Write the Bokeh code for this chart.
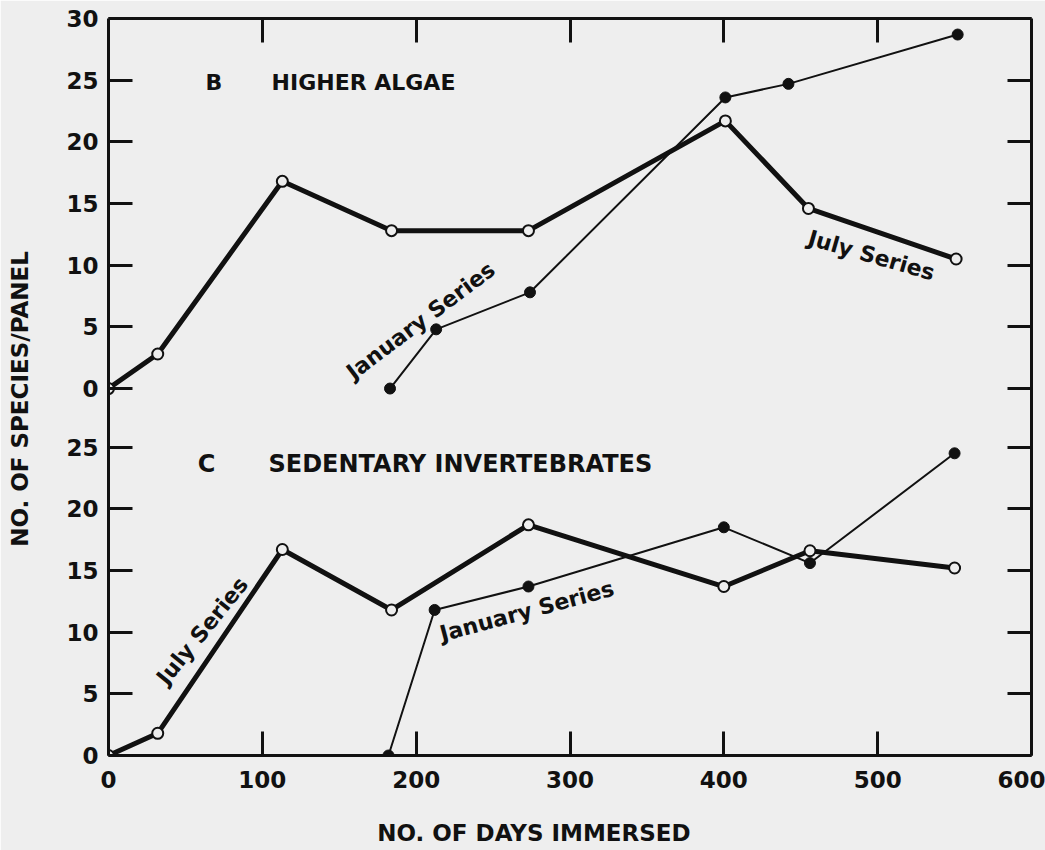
from bokeh.plotting import figure
from bokeh.models import Range1d, LinearAxis, FixedTicker, Label, CustomLabelingPolicy
from bokeh.embed import file_html
from bokeh.resources import INLINE

# ---------------- data ----------------
x_ticks = [0, 100, 200, 300, 400, 500, 600]
algae_y_ticks = [0, 5, 10, 15, 20, 25, 30]
invert_y_ticks = [0, 5, 10, 15, 20, 25]

# Panel B: higher algae
algae_july_days = [0, 32, 113, 184, 273, 401, 455, 551]
algae_july_species = [0, 2.8, 16.8, 12.8, 12.8, 21.7, 14.6, 10.5]
algae_jan_days = [183, 213, 274, 401, 442, 552]
algae_jan_species = [0, 4.8, 7.8, 23.6, 24.7, 28.7]

# Panel C: sedentary invertebrates
invert_july_days = [0, 32, 113, 184, 273, 400, 456, 550]
invert_july_species = [0, 1.8, 16.7, 11.8, 18.7, 13.7, 16.6, 15.2]
invert_jan_days = [182, 212, 273, 400, 456, 550]
invert_jan_species = [0, 11.8, 13.7, 18.5, 15.6, 24.5]

# ---------------- style ----------------
BG = "#eeeeee"
INK = "#111111"
FONT = "DejaVu Sans"
OFF = 29.75  # vertical offset of the upper panel within the shared frame

p = figure(width=1045, height=850, output_backend="svg", toolbar_location=None,
           x_range=Range1d(0, 600), y_range=Range1d(0, OFF + 30),
           x_axis_location=None, y_axis_location=None,
           min_border_left=108, min_border_right=14, min_border_top=18, min_border_bottom=95,
           background_fill_color=BG, border_fill_color=BG, outline_line_color=None)
p.extra_y_ranges = {"algae": Range1d(-OFF, 30)}
for g in p.grid:
    g.visible = False

left_ticks = list(invert_y_ticks) + [OFF + t for t in algae_y_ticks]
overrides = {t: str(t) for t in invert_y_ticks}
overrides.update({OFF + t: str(t) for t in algae_y_ticks})

hide_labels = CustomLabelingPolicy(code="""
try {
  for (const i of Array.from(indices.ones())) indices.unset(i)
} catch (e) {}
return indices
""")


def style_axis(ax, labels=True):
    ax.axis_line_color = INK
    ax.axis_line_width = 3
    ax.major_tick_line_color = INK
    ax.major_tick_line_width = 3
    ax.major_tick_in = 24
    ax.major_tick_out = 0
    ax.minor_tick_line_color = None
    ax.major_label_text_font = FONT
    ax.major_label_text_font_style = "bold"
    ax.major_label_text_color = INK
    ax.axis_label_text_font = FONT
    ax.axis_label_text_font_size = "23px"
    ax.axis_label_text_font_style = "bold"
    ax.axis_label_text_color = INK
    if labels:
        ax.major_label_text_font_size = "23px"
    else:
        ax.major_label_text_font_size = "0px"
        ax.major_label_standoff = 0
        ax.major_label_policy = hide_labels


# trailing no-break spaces nudge the centred axis titles, as placed in the original
left = LinearAxis(ticker=FixedTicker(ticks=left_ticks), major_label_overrides=overrides,
                  axis_label="NO. OF SPECIES/PANEL" + "\u00a0" * 3)
style_axis(left)
left.major_label_standoff = 10
left.axis_label_standoff = 30
p.add_layout(left, "left")

right = LinearAxis(ticker=FixedTicker(ticks=left_ticks))
style_axis(right, labels=False)
p.add_layout(right, "right")

top = LinearAxis(ticker=FixedTicker(ticks=x_ticks[1:-1]))
style_axis(top, labels=False)
p.add_layout(top, "above")

bottom = LinearAxis(ticker=FixedTicker(ticks=x_ticks),
                    axis_label="NO. OF DAYS IMMERSED" + "\u00a0" * 9)
style_axis(bottom)
bottom.major_label_standoff = 15
bottom.axis_label_standoff = 29
p.add_layout(bottom, "below")

# ---------------- series ----------------
p.line(algae_july_days, algae_july_species, y_range_name="algae",
       line_width=5, line_color=INK, line_join="round")
p.line(algae_jan_days, algae_jan_species, y_range_name="algae",
       line_width=2, line_color=INK)
p.line(invert_july_days, invert_july_species,
       line_width=5, line_color=INK, line_join="round")
p.line(invert_jan_days, invert_jan_species,
       line_width=2, line_color=INK)

p.scatter(algae_july_days, algae_july_species, y_range_name="algae", marker="circle",
          size=11, fill_color=BG, line_color=INK, line_width=2)
p.scatter(algae_jan_days, algae_jan_species, y_range_name="algae", marker="circle",
          size=11, fill_color=INK, line_color=INK)
p.scatter(invert_july_days, invert_july_species, marker="circle",
          size=11, fill_color=BG, line_color=INK, line_width=2)
p.scatter(invert_jan_days, invert_jan_species, marker="circle",
          size=11, fill_color=INK, line_color=INK)

# ---------------- annotations ----------------
def lab(text, x, y, size, angle=0, align="left", rng="default"):
    p.add_layout(Label(x=x, y=y, text=text, y_range_name=rng, angle=angle, angle_units="deg",
                       text_font=FONT, text_font_size=size, text_font_style="bold",
                       text_color=INK, text_align=align, text_baseline="middle"))


lab("B", 63, 24.8, "22px", rng="algae")
lab("HIGHER ALGAE", 106, 24.8, "22px", rng="algae")
lab("January Series", 203, 5.5, "22px", angle=37, align="center", rng="algae")
lab("July Series", 496, 10.8, "22px", angle=-16, align="center", rng="algae")

lab("C", 58, 23.6, "24px")
lab("SEDENTARY INVERTEBRATES", 104, 23.6, "24px")
lab("July Series", 61, 10.1, "22px", angle=51, align="center")
lab("January Series", 272, 11.7, "22px", angle=15, align="center")

html = file_html(p, INLINE, title="Species per panel")
open("out.html", "w", encoding="utf-8").write(html)
